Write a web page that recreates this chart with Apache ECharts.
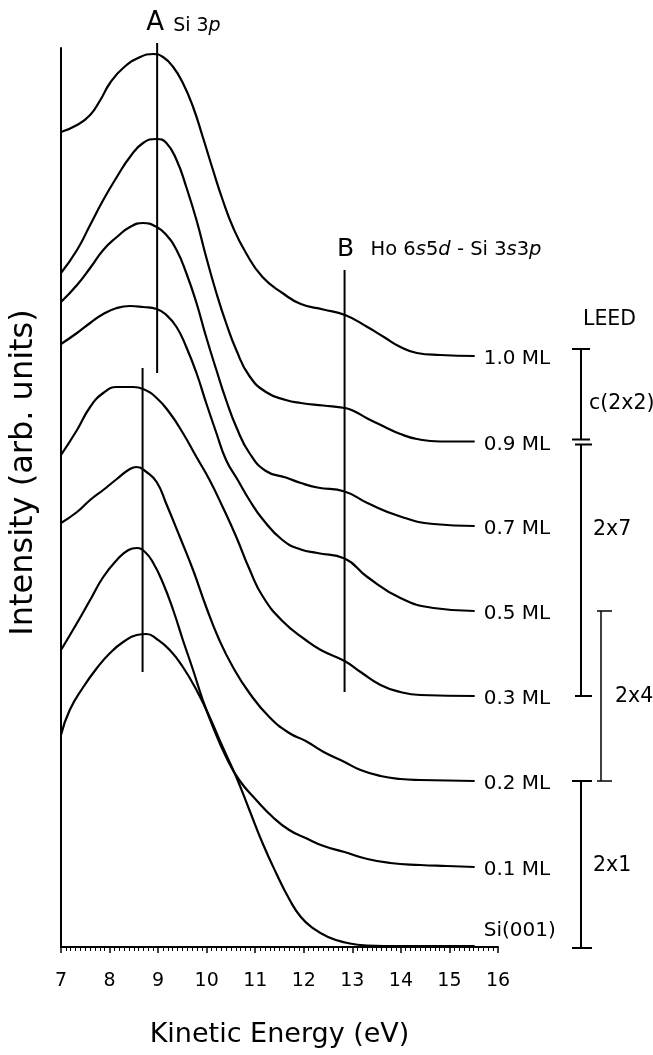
<!DOCTYPE html>
<html>
<head>
<meta charset="utf-8">
<script src="https://cdn.jsdelivr.net/npm/echarts@6/dist/echarts.min.js"></script>
<style>
  html, body { margin: 0; padding: 0; background: #fff; }
  #chart { width: 653px; height: 1055px; }
</style>
</head>
<body>
<div id="chart"></div>
<script>
// Photoemission spectra of Ho on Si(001), stacked by Ho coverage.
// Each spectrum: [kinetic energy (eV), intensity (arb. units, offset included)]
const coverageLabels = ['1.0 ML', '0.9 ML', '0.7 ML', '0.5 ML', '0.3 ML', '0.2 ML', '0.1 ML', 'Si(001)'];

const spec10 = [[7.0, 815], [7.33, 822], [7.60, 832], [7.81, 847], [8.01, 864], [8.28, 879], [8.63, 890], [8.90, 893], [9.10, 890], [9.31, 880], [9.51, 864], [9.72, 840], [9.92, 810], [10.13, 777], [10.33, 747], [10.54, 720], [10.81, 694], [11.15, 670], [11.56, 654], [11.94, 643], [12.40, 637.5], [12.85, 632], [13.31, 620], [13.65, 610], [13.99, 600], [14.33, 594], [14.81, 592], [15.52, 591]];
const spec09 = [[7.0, 674], [7.33, 697], [7.60, 722], [7.87, 747], [8.15, 770], [8.42, 790], [8.69, 804], [8.97, 808], [9.17, 804], [9.38, 787], [9.58, 760], [9.79, 727], [9.99, 690], [10.20, 654], [10.40, 624], [10.61, 597], [10.88, 571], [11.22, 555], [11.63, 547], [11.94, 544], [12.40, 541.5], [12.85, 539], [13.05, 535.5], [13.31, 528.5], [13.65, 520.5], [13.99, 513], [14.33, 508], [14.81, 505.5], [15.52, 505.5]];
const spec07 = [[7.0, 645], [7.33, 662], [7.60, 679], [7.87, 697], [8.15, 710], [8.42, 720], [8.69, 724], [8.97, 720], [9.17, 712], [9.38, 697], [9.58, 674], [9.79, 644], [9.99, 610], [10.20, 577], [10.40, 547], [10.61, 520], [10.88, 494], [11.22, 476], [11.63, 469.5], [11.94, 464], [12.28, 459.5], [12.84, 455.5], [13.31, 444], [13.99, 430.5], [14.67, 423], [15.52, 421]];
const spec05 = [[7.0, 603], [7.33, 614], [7.60, 624], [7.87, 633], [8.15, 639], [8.42, 641], [8.69, 640], [8.97, 638], [9.17, 632], [9.38, 620], [9.58, 600], [9.79, 574], [9.99, 544], [10.20, 514], [10.40, 487], [10.64, 467], [10.88, 447], [11.15, 428], [11.56, 407], [11.94, 397.5], [12.28, 394], [12.84, 388.5], [13.31, 370], [13.99, 349], [14.67, 339], [15.52, 336]];
const spec03 = [[7.0, 492], [7.33, 517], [7.60, 540], [7.87, 554], [8.15, 560], [8.49, 560], [8.69, 558], [8.97, 549], [9.24, 534], [9.51, 514], [9.79, 490], [10.06, 467], [10.33, 440], [10.61, 410], [10.88, 378], [11.15, 351], [11.56, 326], [12.04, 307], [12.35, 297], [12.84, 286], [13.17, 275], [13.58, 262], [13.99, 255], [14.40, 252], [15.52, 251]];
const spec02 = [[7.0, 424], [7.33, 435], [7.60, 447], [7.87, 457], [8.15, 468], [8.42, 478], [8.56, 480], [8.76, 475], [8.97, 465], [9.17, 443], [9.44, 411], [9.72, 377], [9.99, 340], [10.26, 307], [10.54, 280], [10.88, 254], [11.29, 230], [11.70, 214], [12.04, 206], [12.41, 195], [12.84, 185], [13.17, 177], [13.58, 171], [13.99, 168], [14.40, 167], [15.52, 166]];
const spec01 = [[7.0, 297], [7.33, 324], [7.60, 347], [7.87, 370], [8.15, 387], [8.39, 397], [8.56, 399], [8.73, 395], [8.90, 384], [9.10, 364], [9.31, 337], [9.51, 307], [9.72, 277], [9.92, 247], [10.13, 220], [10.40, 190], [10.67, 167], [11.02, 147], [11.36, 130], [11.70, 117], [12.04, 109], [12.41, 101], [12.84, 95], [13.31, 88], [13.78, 84], [14.40, 82], [14.95, 81], [15.52, 80]];
const specSi = [[7.0, 212], [7.18, 237], [7.46, 260], [7.74, 279], [8.01, 294], [8.28, 305], [8.56, 312], [8.76, 313], [8.97, 308], [9.24, 297], [9.51, 280], [9.79, 257], [10.06, 230], [10.33, 200], [10.61, 170], [10.88, 137], [11.15, 104], [11.43, 74], [11.70, 48], [11.94, 30], [12.20, 18.5], [12.50, 10], [12.85, 4.5], [13.30, 1.5], [14.0, 1], [15.52, 1]];

const spectra = [spec10, spec09, spec07, spec05, spec03, spec02, spec01, specSi];

// Feature markers: energy and vertical extent (intensity units)
const featureNames = ['A', 'A', 'B'];
const featureEnergy = [8.98, 8.68, 12.84];
const featureLow = [574, 275, 255];
const featureHigh = [904, 579, 677];

// LEED phases and the coverage range each one spans
const leedPhases = ['c(2x2)', '2x7', '2x4', '2x1'];
const leedFrom = ['1.0 ML', '0.9 ML', '0.5 ML', '0.2 ML'];
const leedTo = ['0.9 ML', '0.3 ML', '0.2 ML', 'Si(001)'];

const FONT = 'DejaVu Sans';
const chart = echarts.init(document.getElementById('chart'), null, { renderer: 'canvas' });

const series = spectra.map((data, i) => ({
  name: coverageLabels[i],
  type: 'line',
  data: data,
  smooth: 0.5,
  showSymbol: false,
  silent: true,
  lineStyle: { color: '#000', width: 2.2 },
  endLabel: {
    show: true,
    formatter: '{a}',
    distance: 9,
    offset: i === spectra.length - 1 ? [0, -15] : [0, 3],
    color: '#000',
    fontFamily: FONT,
    fontSize: 20
  }
}));

featureEnergy.forEach((e, i) => {
  series.push({
    name: 'feature ' + featureNames[i] + i,
    type: 'line',
    data: [[e, featureLow[i]], [e, featureHigh[i]]],
    showSymbol: false,
    silent: true,
    clip: false,
    lineStyle: { color: '#000', width: 2 }
  });
});

const option = {
  animation: false,
  backgroundColor: '#fff',
  grid: { left: 59, right: 155, top: 48, bottom: 108, containLabel: false },
  xAxis: {
    type: 'value',
    min: 7, max: 16, interval: 1,
    name: 'Kinetic Energy (eV)',
    nameLocation: 'middle',
    nameGap: 74,
    nameTextStyle: { color: '#000', fontFamily: FONT, fontSize: 27 },
    axisLine: { show: true, lineStyle: { color: '#000', width: 2 } },
    axisTick: { show: true, length: 6, lineStyle: { color: '#000', width: 1.5 } },
    minorTick: { show: true, splitNumber: 10, length: 4, lineStyle: { color: '#000', width: 1 } },
    axisLabel: { color: '#000', fontFamily: FONT, fontSize: 19, margin: 25 },
    splitLine: { show: false },
    minorSplitLine: { show: false }
  },
  yAxis: {
    type: 'value',
    min: 0, max: 899,
    name: 'Intensity (arb. units)',
    nameLocation: 'middle',
    nameGap: 21,
    nameTextStyle: { color: '#000', fontFamily: FONT, fontSize: 32, padding: [0, 0, 0, 50] },
    axisLine: { show: true, lineStyle: { color: '#000', width: 2 } },
    axisTick: { show: false },
    axisLabel: { show: false },
    splitLine: { show: false }
  },
  series: series
};

chart.setOption(option);

// Annotation layer: feature labels and LEED phase brackets
const toPx = (x, v) => chart.convertToPixel({ gridIndex: 0 }, [x, v]);
const tailLevel = {};
coverageLabels.forEach((lab, i) => {
  const d = spectra[i];
  tailLevel[lab] = i === spectra.length - 1 ? 0 : d[d.length - 1][1];
});

const graphics = [];
const txt = (x, y, text, size, align, extra) => graphics.push({
  type: 'text', x: x, y: y, silent: true,
  style: Object.assign({ text: text, fill: '#000', font: size + 'px "' + FONT + '"', align: align, verticalAlign: 'middle' }, extra || {})
});

// Feature A (Si 3p) and B (Ho 6s5d - Si 3s3p)
const aTop = toPx(featureEnergy[0], featureHigh[0]);
txt(aTop[0] - 2, aTop[1] - 20, 'A', 26, 'center');
txt(aTop[0] + 16, aTop[1] - 17, '{n|Si 3}{i|p}', 19, 'left', {
  rich: { n: { fontFamily: FONT, fontSize: 19, fill: '#000' }, i: { fontFamily: FONT, fontSize: 19, fontStyle: 'italic', fill: '#000' } }
});
const bTop = toPx(featureEnergy[2], featureHigh[2]);
txt(bTop[0] + 1, bTop[1] - 21, 'B', 25, 'center');
const r = { fontFamily: FONT, fontSize: 19.5, fill: '#000' };
const ri = { fontFamily: FONT, fontSize: 19.5, fontStyle: 'italic', fill: '#000' };
txt(bTop[0] + 26, bTop[1] - 20, '{n|Ho 6}{i|s}{n|5}{i|d}{n| - Si 3}{i|s}{n|3}{i|p}', 19.5, 'left', { rich: { n: r, i: ri } });

// LEED brackets
const leedX = [581, 581, 601, 581];
const topShift = [-7, 3, 0, 0];
const botShift = [-2, 0, 0, 1];
const capL = [9, 6, 4, 9];
const capR = [9, 11, 11, 11];
const labelX = [589, 593, 615, 593];
const labelY = [404, 530, 697, 866];
const lineW = [2, 2, 1.5, 2];

txt(583, 320, 'LEED', 20.5, 'left');
leedPhases.forEach((ph, i) => {
  const yTop = toPx(16, tailLevel[leedFrom[i]])[1] + topShift[i];
  const yBot = toPx(16, tailLevel[leedTo[i]])[1] + botShift[i];
  const x = leedX[i];
  const ls = { stroke: '#000', lineWidth: lineW[i] };
  graphics.push({ type: 'line', silent: true, shape: { x1: x, y1: yTop, x2: x, y2: yBot }, style: ls });
  graphics.push({ type: 'line', silent: true, shape: { x1: x - capL[i], y1: yTop, x2: x + capR[i], y2: yTop }, style: ls });
  graphics.push({ type: 'line', silent: true, shape: { x1: x - capL[i], y1: yBot, x2: x + capR[i], y2: yBot }, style: ls });
  txt(labelX[i], labelY[i], ph, 20.5, 'left');
});

chart.setOption({ graphic: graphics });
</script>
</body>
</html>
